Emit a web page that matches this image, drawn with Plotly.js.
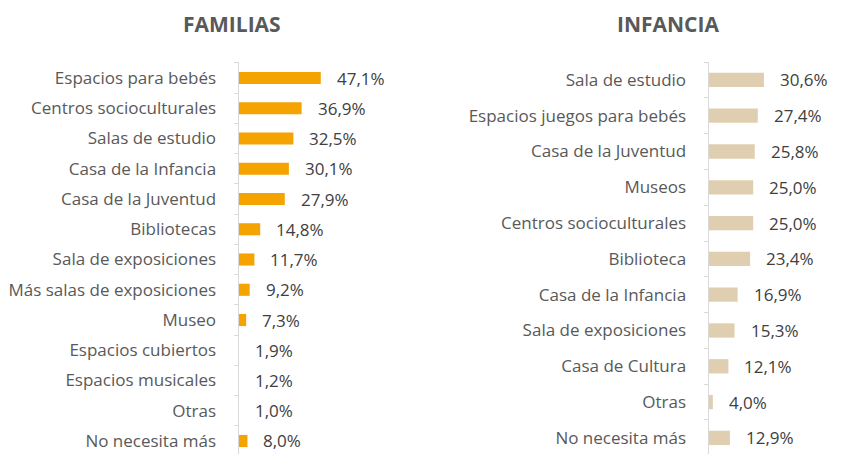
<!DOCTYPE html>
<html>
<head>
<meta charset="utf-8">
<script src="https://cdn.plot.ly/plotly-3.0.1.min.js"></script>
<style>html,body{margin:0;padding:0;background:#fff}</style>
</head>
<body>
<div id="chart" style="width:841px;height:454px"></div>
<script>
var famCategories = ["Espacios para bebés","Centros socioculturales","Salas de estudio","Casa de la Infancia","Casa de la Juventud","Bibliotecas","Sala de exposiciones","Más salas de exposiciones","Museo","Espacios cubiertos","Espacios musicales","Otras","No necesita más"];
var famValues = [47.1,36.9,32.5,30.1,27.9,14.8,11.7,9.2,7.3,1.9,1.2,1.0,8.0];
var infCategories = ["Sala de estudio","Espacios juegos para bebés","Casa de la Juventud","Museos","Centros socioculturales","Biblioteca","Casa de la Infancia","Sala de exposiciones","Casa de Cultura","Otras","No necesita más"];
var infValues = [30.6,27.4,25.8,25.0,25.0,23.4,16.9,15.3,12.1,4.0,12.9];

var famMin = 3.5, famMax = 100;
var infMin = 2, infMax = 70.7;
function fmt(v){ return v.toFixed(1).replace('.', ',') + '%'; }

var labelFont = {family: '"Open Sans", sans-serif', size: 17, color: '#595959'};
var valueFont = {family: '"Open Sans", sans-serif', size: 17, color: '#404040'};

var traces = [
  {type:'bar', orientation:'h', y: famCategories, x: famValues, xaxis:'x', yaxis:'y',
   marker:{color:'#F5A300'}, hoverinfo:'none'},
  {type:'bar', orientation:'h', y: infCategories, x: infValues, xaxis:'x2', yaxis:'y2',
   marker:{color:'#DFCFB0'}, hoverinfo:'none'}
];

var annotations = [];
famCategories.forEach(function(c, i){
  annotations.push({xref:'x', yref:'y', x: Math.max(famValues[i], famMin), y: c,
    text: fmt(famValues[i]), showarrow:false, xanchor:'left', yanchor:'middle', xshift: 14, font: valueFont});
});
infCategories.forEach(function(c, i){
  annotations.push({xref:'x2', yref:'y2', x: Math.max(infValues[i], infMin), y: c,
    text: fmt(infValues[i]), showarrow:false, xanchor:'left', yanchor:'middle', xshift: 14, font: valueFont});
});
annotations.push({xref:'paper', yref:'paper', x: 232/841, y: 1, yshift: 38, text:'<b>FAMILIAS</b>', showarrow:false,
  xanchor:'center', yanchor:'middle', font:{family:'"Open Sans", sans-serif', size:21, color:'#595959'}});
annotations.push({xref:'paper', yref:'paper', x: 668/841, y: 1, yshift: 38, text:'<b>INFANCIA</b>', showarrow:false,
  xanchor:'center', yanchor:'middle', font:{family:'"Open Sans", sans-serif', size:21, color:'#595959'}});

var yCommon = {type:'category', tickson:'boundaries', ticks:'outside', ticklen:4, tickcolor:'#D9D9D9',
  showline:true, linecolor:'#D9D9D9', linewidth:1.5, showgrid:false, zeroline:false,
  tickfont: labelFont, ticklabelstandoff: 18, fixedrange:true};

var layout = {
  width:841, height:454,
  margin:{l:0, r:0, t:62, b:0},
  paper_bgcolor:'#fff', plot_bgcolor:'rgba(0,0,0,0)',
  showlegend:false, bargap:0.6,
  xaxis:{domain:[239/841, 420/841], range:[famMin, famMax], visible:false, fixedrange:true},
  xaxis2:{domain:[709/841, 1], range:[infMin, infMax], visible:false, fixedrange:true},
  yaxis:Object.assign({}, yCommon, {anchor:'x', range:[12.43, -0.53]}),
  yaxis2:Object.assign({}, yCommon, {anchor:'x2', range:[10.45, -0.5]}),
  annotations: annotations
};

Plotly.newPlot('chart', traces, layout, {displayModeBar:false, staticPlot:true});
</script>
</body>
</html>
